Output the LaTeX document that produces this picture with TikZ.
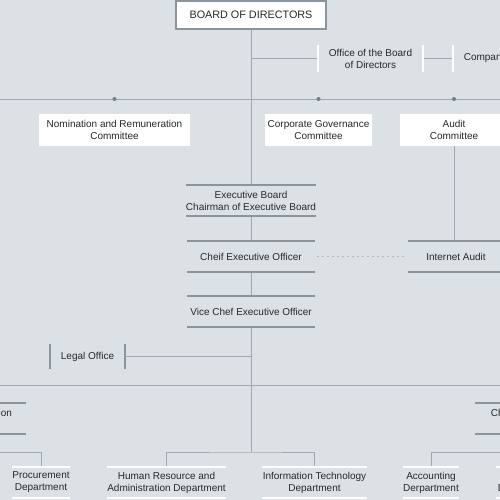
\documentclass[tikz,border=0pt]{standalone}
\usepackage{fontspec}
\setmainfont{Liberation Sans}
\pgfdeclarelayer{bg}
\pgfsetlayers{bg,main}
\definecolor{paper}{RGB}{220,225,230}
\definecolor{wirec}{RGB}{160,167,174}
\definecolor{rulec}{RGB}{140,148,156}
\definecolor{knotc}{RGB}{118,126,134}
\definecolor{dotc}{RGB}{178,184,190}
\definecolor{ink}{RGB}{40,40,40}
\tikzset{
    every node/.style={inner sep=0pt, text=ink, align=center, font=\fontsize{10}{12}\selectfont}
}
\tikzset{
    board/.style={draw=rulec, line width=1.3pt, fill=white, minimum width=150pt, minimum height=28pt, font=\fontsize{10.8}{13}\selectfont},
    cmte/.style={fill=white, minimum height=32pt},
    unit/.style={minimum width=127pt, minimum height=31pt},
    side/.style={minimum height=27pt},
    dept/.style={minimum height=31pt},
    wire/.style={draw=wirec, line width=0.9pt},
    dotline/.style={draw=dotc, line width=0.9pt, dash pattern=on 2pt off 3pt},
    grayrule/.style={draw=rulec, line width=1.8pt},
    whiterule/.style={draw=white, line width=1.8pt}
}

\begin{document}
\begin{tikzpicture}[x=1pt, y=-1pt]
        \useasboundingbox (0,0) rectangle (500,500);
        \clip (0,0) rectangle (500,500);
        \node (bod) [board] at (251, 15) {BOARD OF DIRECTORS};
        \node (obd) [side, minimum width=105pt] at (370.5, 58.5) {Office of the Board\\of Directors};
        \node (cs) [side, minimum width=110pt] at (508, 58.5) {Company Secretary};
        \node (nrc) [cmte, minimum width=151pt] at (114.5, 130) {Nomination and Remuneration\\Committee};
        \node (cgc) [cmte, minimum width=107pt] at (318.5, 130) {Corporate Governance\\Committee};
        \node (adc) [cmte, minimum width=108pt] at (454, 130) {Audit\\Committee};
        \node (exb) [unit] at (251, 200.5) {Executive Board\\Chairman of Executive Board};
        \node (ceo) [unit] at (251, 256.5) {Cheif Executive Officer};
        \node (vce) [unit] at (251, 311.5) {Vice Chef Executive Officer};
        \node (iad) [unit, minimum width=96pt] at (456, 256.5) {Internet Audit};
        \node (lgl) [side, minimum width=75pt, minimum height=25pt] at (87.5, 356.5) {Legal Office};
        \node (coo) [unit, minimum width=98pt] at (-23, 418.5) {Chief Operation\\Officer};
        \node (cfo) [unit, minimum width=98pt] at (524, 418.5) {Chief Financial\\Officer};
        \node (prc) [dept, minimum width=56pt] at (41, 482.5) {Procurement\\Department};
        \node (hra) [dept, minimum width=119pt] at (166.5, 482.5) {Human Resource and\\Administration Department};
        \node (itd) [dept, minimum width=105pt] at (314.5, 482.5) {Information Technology\\Department};
        \node (acc) [dept, minimum width=56pt] at (431, 482.5) {Accounting\\Derpartment};
        \node (fin) [dept, minimum width=56pt] at (524, 482.5) {Finance\\Department};
        \coordinate (cl) at (-5, 99);
        \coordinate (cr) at (505, 99);
        \coordinate (dl) at (-5, 385);
        \coordinate (dr) at (505, 385);
        \coordinate (hub) at (251, 452);
        % box rules
        \foreach \n in {exb,ceo,vce,iad,coo,cfo}
                \draw[grayrule] (\n.north west) -- (\n.north east) (\n.south west) -- (\n.south east);
        \foreach \n in {prc,hra,itd,acc,fin}
                \draw[whiterule] (\n.north west) -- (\n.north east) (\n.south west) -- (\n.south east);
        \foreach \n in {obd,cs}
                \draw[whiterule] (\n.north west) -- (\n.south west) (\n.north east) -- (\n.south east);
        \draw[grayrule] (lgl.north west) -- (lgl.south west) (lgl.north east) -- (lgl.south east);
        \foreach \n in {nrc,cgc,adc}
                \fill[knotc] (\n.north |- cl) circle (2pt);
        \begin{pgfonlayer}{bg}
                \fill[paper] (0,0) rectangle (500,500);
                \draw[wire] (cl) -- (cr);
                \draw[wire] (dl) -- (dr);
                \draw[wire] (bod) -- (exb);
                \draw[wire] (exb) -- (ceo);
                \draw[wire] (ceo) -- (vce);
                \draw[wire] (vce) -- (hub);
                \draw[wire] (obd.west) -- (obd.west -| bod.south);
                \draw[wire] (obd) -- (cs);
                \draw[wire] (lgl.east) -- (lgl.east -| vce.south);
                \draw[wire] (adc.south) -- (adc.south |- iad.north);
                \draw[dotline, shorten <=2pt, shorten >=3pt] (ceo) -- (iad);
                \draw[wire] (coo.north) -- (coo.north |- dl);
                \draw[wire] (cfo.north) -- (cfo.north |- dr);
                \draw[wire] (coo.south) -- ++(0,18) -| (prc.north);
                \draw[wire] (cfo.south) -- ++(0,18) -| (acc.north);
                \draw[wire] (cfo) -- (fin);
                \draw[wire] (hra.north) |- (hub) -| (itd.north);
        \end{pgfonlayer}
\end{tikzpicture}
\end{document}
